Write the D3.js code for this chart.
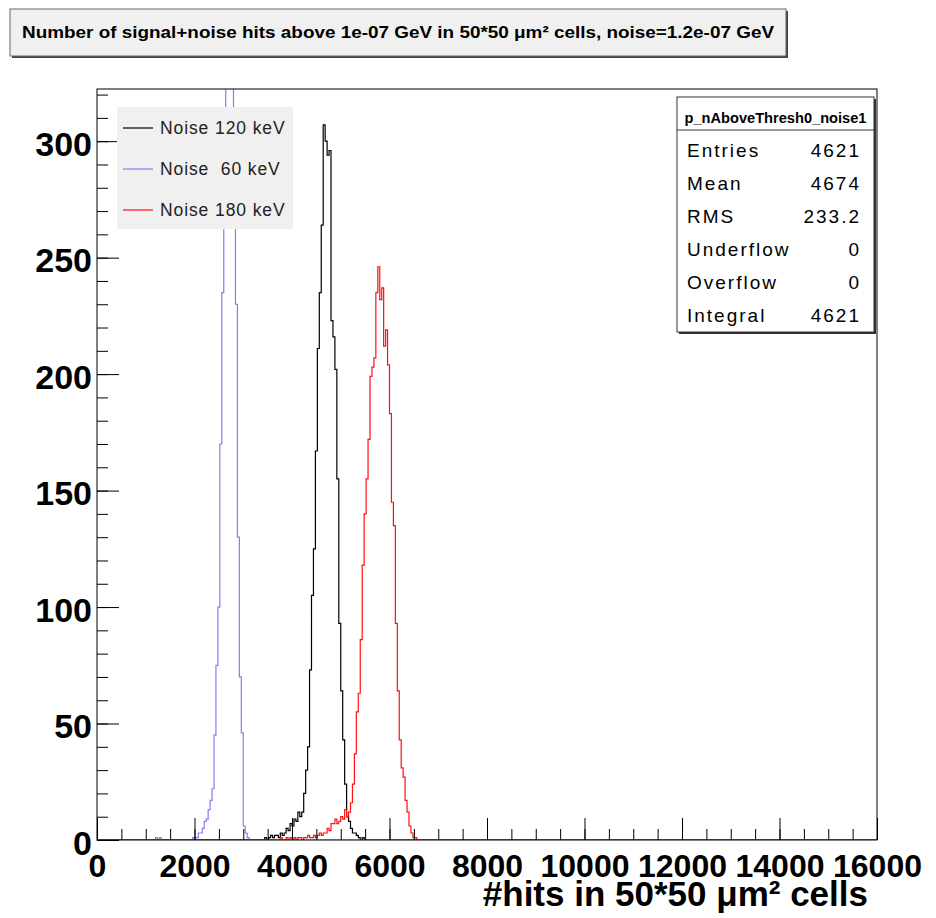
<!DOCTYPE html>
<html>
<head>
<meta charset="utf-8">
<script src="https://cdn.jsdelivr.net/npm/d3@7"></script>
<style>
  body { margin: 0; background: #fff; }
  text { font-family: "Liberation Sans", Arial, Helvetica, sans-serif; }
</style>
</head>
<body>
<div id="chart"></div>
<script>
// histogram binning (0 .. 16000, 400 bins)
const xMin = 0, xMax = 16000, binWidth = 40;

// counts per bin, starting at the given lower edge
const blackStart = 3440; // Noise 120 keV
const blackCounts = [1, 0, 1, 2, 1, 2, 2, 1, 3, 2, 3, 5, 4, 7, 6, 9, 8, 12, 10, 12,
  20, 30, 40, 73, 105, 125, 167, 211, 235, 264, 307, 300, 294, 296, 223, 216, 202, 155, 93, 64,
  43, 24, 10, 8, 5, 3, 3, 2, 1, 0, 1];

const blueStart = 1200; // Noise 60 keV
const blueCounts = [1, 0, 1, 0, 0, 0, 0, 0, 0, 0, 0, 0, 0, 0, 0, 0, 0, 0, 0,
  1, 1, 1, 3, 3, 5, 8, 9, 13, 17, 22, 45, 75, 100, 170, 235, 290, 400, 480, 500,
  420, 290, 230, 130, 70, 46, 6, 3, 1];

const redStart = 3760; // Noise 180 keV
const redCounts = [1, 0, 0, 1, 0, 1, 0, 1, 0, 1, 1, 0, 1, 1, 2, 1, 1, 2, 1, 2,
  3, 2, 3, 3, 5, 4, 7, 7, 9, 7, 8, 10, 9, 13, 10, 12, 16, 24, 37, 55,
  63, 86, 118, 140, 155, 172, 199, 203, 207, 235, 246, 232, 237, 212, 219, 204, 183, 145, 135, 93,
  64, 43, 31, 27, 17, 12, 6, 3, 1, 1];

const yMax = 322.4;
const xTicks = [0, 2000, 4000, 6000, 8000, 10000, 12000, 14000, 16000];
const yTicks = [0, 50, 100, 150, 200, 250, 300];

const titleText = "Number of signal+noise hits above 1e-07 GeV in 50*50 \u03bcm\u00b2 cells, noise=1.2e-07 GeV";
const xTitle = "#hits in 50*50 \u03bcm\u00b2 cells";

const legendLabels = ["Noise 120 keV", "Noise  60 keV", "Noise 180 keV"];
const legendColors = ["#000000", "#8080f0", "#ff1010"];

const statsName = "p_nAboveThresh0_noise1";
const statLabels = ["Entries", "Mean", "RMS", "Underflow", "Overflow", "Integral"];
const statValues = ["4621", "4674", "233.2", "0", "0", "4621"];

const W = 936, H = 918;
const frame = { left: 97, right: 877, top: 89, bottom: 840 };

const svg = d3.select("#chart").append("svg")
  .attr("width", W).attr("height", H);
svg.append("rect").attr("width", W).attr("height", H).attr("fill", "#fff");

const x = d3.scaleLinear().domain([xMin, xMax]).range([frame.left, frame.right]);
const y = d3.scaleLinear().domain([0, yMax]).range([frame.bottom, frame.top]);

// full bin table for a series
function bins(start, counts) {
  const n = Math.round((xMax - xMin) / binWidth);
  const arr = d3.range(n).map(i => ({ x: xMin + i * binWidth, c: 0 }));
  const s = Math.round((start - xMin) / binWidth);
  counts.forEach((c, i) => { arr[s + i].c = c; });
  arr.push({ x: xMax, c: 0 });
  return arr;
}

svg.append("clipPath").attr("id", "plot-clip")
  .append("rect")
  .attr("x", frame.left).attr("y", frame.top)
  .attr("width", frame.right - frame.left).attr("height", frame.bottom - frame.top);

const line = d3.line()
  .x(d => x(d.x))
  .y(d => y(d.c))
  .curve(d3.curveStepAfter);

const series = [
  { data: bins(blackStart, blackCounts), color: legendColors[0] },
  { data: bins(blueStart, blueCounts), color: legendColors[1] },
  { data: bins(redStart, redCounts), color: legendColors[2] }
];

const plot = svg.append("g").attr("clip-path", "url(#plot-clip)");
series.forEach(s => {
  plot.append("path")
    .attr("d", line(s.data))
    .attr("fill", "none")
    .attr("stroke", s.color)
    .attr("stroke-width", 1.2);
});

// axes: ticks drawn inside the frame like ROOT
const xAxis = svg.append("g")
  .attr("transform", `translate(0,${frame.bottom})`)
  .call(d3.axisBottom(x).tickValues(xTicks).tickSize(-22).tickPadding(14).tickFormat(d3.format("d")));
xAxis.select(".domain").remove();
xAxis.selectAll("text").style("font", "bold 32px 'Liberation Sans', Arial, sans-serif").attr("fill", "#000");

const xMinor = svg.append("g")
  .attr("transform", `translate(0,${frame.bottom})`)
  .call(d3.axisBottom(x).tickValues(d3.range(xMin, xMax + 1, 500)).tickSize(-11).tickFormat(""));
xMinor.select(".domain").remove();

const yAxis = svg.append("g")
  .attr("transform", `translate(${frame.left},0)`)
  .call(d3.axisLeft(y).tickValues(yTicks).tickSize(-22).tickPadding(5));
yAxis.select(".domain").remove();
yAxis.selectAll("text").style("font", "bold 34px 'Liberation Sans', Arial, sans-serif")
  .attr("fill", "#000").attr("dy", "0.42em");

const yMinor = svg.append("g")
  .attr("transform", `translate(${frame.left},0)`)
  .call(d3.axisLeft(y).tickValues(d3.range(0, yMax, 10)).tickSize(-11).tickFormat(""));
yMinor.select(".domain").remove();

svg.selectAll(".tick line").attr("stroke", "#000").attr("stroke-width", 1);

svg.append("rect")
  .attr("x", frame.left).attr("y", frame.top)
  .attr("width", frame.right - frame.left).attr("height", frame.bottom - frame.top)
  .attr("fill", "none").attr("stroke", "#000").attr("stroke-width", 1);

svg.append("text")
  .attr("x", 868).attr("y", 906)
  .attr("text-anchor", "end")
  .style("font", "bold 35px 'Liberation Sans', Arial, sans-serif")
  .text(xTitle);

// title box
const tb = { x: 10, y: 9, w: 776, h: 47 };
svg.append("rect").attr("x", tb.x + 2).attr("y", tb.y + 2).attr("width", tb.w).attr("height", tb.h).attr("fill", "#444");
svg.append("rect").attr("x", tb.x).attr("y", tb.y).attr("width", tb.w).attr("height", tb.h)
  .attr("fill", "#f0f0f0").attr("stroke", "#666").attr("stroke-width", 1);
svg.append("text")
  .attr("x", tb.x + tb.w / 2).attr("y", 38)
  .attr("text-anchor", "middle")
  .attr("textLength", 752).attr("lengthAdjust", "spacingAndGlyphs")
  .style("font", "bold 17px 'Liberation Sans', Arial, sans-serif")
  .text(titleText);

// legend
const lg = svg.append("g");
lg.append("rect").attr("x", 117).attr("y", 107).attr("width", 176).attr("height", 122).attr("fill", "#f0f0f0");
legendLabels.forEach((lab, i) => {
  const yy = 128 + i * 41;
  lg.append("line").attr("x1", 123).attr("x2", 153).attr("y1", yy).attr("y2", yy)
    .attr("stroke", legendColors[i]).attr("stroke-width", 1.2);
  lg.append("text").attr("x", 160).attr("y", yy + 6)
    .style("font", "17.5px 'Liberation Sans', Arial, sans-serif")
    .style("white-space", "pre")
    .style("letter-spacing", "0.9px")
    .attr("fill", "#222")
    .text(lab);
});

// stats box
const sb = { x: 677, y: 97, w: 197, h: 235 };
svg.append("rect").attr("x", sb.x + 2).attr("y", sb.y + 2).attr("width", sb.w).attr("height", sb.h).attr("fill", "#333");
svg.append("rect").attr("x", sb.x).attr("y", sb.y).attr("width", sb.w).attr("height", sb.h)
  .attr("fill", "#fff").attr("stroke", "#333").attr("stroke-width", 1);
svg.append("line").attr("x1", sb.x).attr("x2", sb.x + sb.w).attr("y1", 130).attr("y2", 130)
  .attr("stroke", "#333");
svg.append("text").attr("x", sb.x + sb.w / 2).attr("y", 123).attr("text-anchor", "middle")
  .attr("textLength", 182).attr("lengthAdjust", "spacingAndGlyphs")
  .style("font", "bold 14px 'Liberation Sans', Arial, sans-serif")
  .text(statsName);
statLabels.forEach((lab, i) => {
  const yy = 157 + i * 33;
  svg.append("text").attr("x", 687).attr("y", yy)
    .style("font", "19px 'Liberation Sans', Arial, sans-serif")
    .style("letter-spacing", "2px").text(lab);
  svg.append("text").attr("x", 861).attr("y", yy).attr("text-anchor", "end")
    .style("font", "19px 'Liberation Sans', Arial, sans-serif")
    .style("letter-spacing", "2px").text(statValues[i]);
});
</script>
</body>
</html>
